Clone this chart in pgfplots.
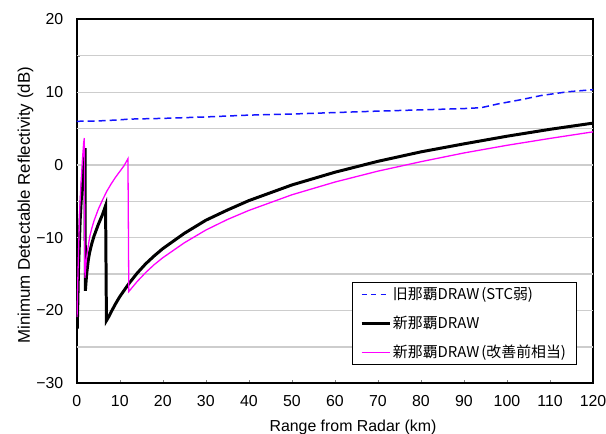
\documentclass[border=0pt]{standalone}
\usepackage{fontspec}
\setmainfont{Liberation Sans}
\newfontfamily\cjk{Noto Sans CJK JP}
\usepackage{pgfplots}
\pgfplotsset{compat=1.18}
\definecolor{myblue}{RGB}{20,20,255}
\definecolor{mymag}{RGB}{255,0,255}
\definecolor{gridc}{RGB}{205,205,205}
\begin{document}
\begin{tikzpicture}
\path[use as bounding box] (-77bp,-50.5bp) rectangle (531bp,384.5bp);
\begin{axis}[
  scale only axis, width=518bp, height=365bp,
  xmin=0, xmax=120, ymin=-30, ymax=20,
  xtick={0,10,...,120},
  ytick={-30,-20,-10,0,10,20},
  yticklabels={−30,−20,−10,0,10,20},
  minor ytick={-25,-15,-5,5,15},
  ymajorgrids=true, yminorgrids=true,
  major grid style={gridc, line width=1.3bp},
  minor grid style={gridc, line width=1.3bp},
  axis line style={line width=2bp},
  major tick length=3bp, minor tick length=3bp,
  tick pos=left, tick align=inside,
  /pgf/number format/assume math mode=true,
  ticklabel style={font=\fontsize{16}{18}\selectfont},
  xticklabel style={yshift=-9bp},
  yticklabel style={xshift=-10bp},
  xlabel={Range from Radar (km)},
  ylabel={Minimum Detectable Reflectivity (dB)},
  every axis x label/.style={at={(axis description cs:0.535,-0.122)}, anchor=center, font=\fontsize{16}{18}\selectfont},
  every axis y label/.style={at={(axis description cs:-0.0994,0.489)}, anchor=center, rotate=90, font=\fontsize{17}{19}\selectfont},
  legend image code/.code={\draw[#1] (0bp,0bp) -- (28bp,0bp);},
  legend cell align=left,
  legend style={at={(0.533,0.277)}, anchor=north west, draw=black,
    font=\cjk\fontsize{15}{17}\selectfont, row sep=11bp, inner xsep=8bp, inner ysep=3bp},
]
\addplot[gridc, line width=1.3bp, forget plot] coordinates {(0,-25)(120,-25)};
\addplot[gridc, line width=1.3bp, forget plot] coordinates {(0,-20)(120,-20)};
\addplot[gridc, line width=1.3bp, forget plot] coordinates {(0,-15)(120,-15)};
\addplot[gridc, line width=1.3bp, forget plot] coordinates {(0,-10)(120,-10)};
\addplot[gridc, line width=1.3bp, forget plot] coordinates {(0,-5)(120,-5)};
\addplot[gridc, line width=1.3bp, forget plot] coordinates {(0,0)(120,0)};
\addplot[gridc, line width=1.3bp, forget plot] coordinates {(0,5)(120,5)};
\addplot[gridc, line width=1.3bp, forget plot] coordinates {(0,10)(120,10)};
\addplot[gridc, line width=1.3bp, forget plot] coordinates {(0,15)(120,15)};
\addplot[myblue, line width=1.5bp, dash pattern=on 7bp off 4bp,
  legend image post style={dash pattern=on 5bp off 4.5bp}] coordinates {
(0,6.0)(5,6.05)(10,6.2)(12,6.3)(20,6.4)(30,6.6)(40,6.85)(50,7.0)(60,7.2)(70,7.4)(80,7.57)(90,7.75)(94,7.87)(98,8.4)(103,8.94)(108,9.55)(114,10.05)(120,10.35)
};
\addlegendentry{旧那覇DRAW\hspace{2bp}(STC弱)}
\addplot[black, line width=3bp] coordinates {
(0.12,-22.5)(0.4,-14.5)(0.8,-7.5)(1.2,-3.2)(1.6,0.0)(1.93,2.3)(2.0,-17.3)(2.3,-15.0)(2.7,-13.0)(3.0,-12.0)(3.5,-10.8)(4.0,-9.8)(4.5,-9.0)(5.0,-8.2)(5.5,-7.5)(6.0,-6.8)(6.7,-5.6)(6.9,-21.4)(7.5,-20.8)(8,-20.2)(9,-19.1)(10,-18.1)(12,-16.4)(14,-14.9)(16,-13.6)(18,-12.5)(20,-11.5)(25,-9.4)(30,-7.6)(35,-6.2)(40,-4.9)(50,-2.75)(60,-1.0)(70,0.5)(80,1.8)(90,2.9)(100,3.95)(110,4.9)(120,5.75)
};
\addlegendentry{新那覇DRAW}
\addplot[mymag, line width=1.3bp] coordinates {
(0.07,-20.9)(0.3,-14.5)(0.69,-6.0)(1.0,-2.5)(1.3,0.5)(1.6,3.0)(1.76,3.7)(1.9,-15.5)(2.2,-13.2)(2.5,-11.8)(3.0,-9.9)(3.5,-8.7)(4,-7.7)(5,-6.1)(6,-4.8)(7,-3.6)(8,-2.6)(9,-1.7)(10,-0.9)(11,-0.1)(11.9,0.85)(12.1,-17.4)(14,-16.05)(16,-14.8)(18,-13.7)(20,-12.75)(25,-10.7)(30,-8.95)(35,-7.5)(40,-6.25)(50,-4.1)(60,-2.35)(70,-0.85)(80,0.45)(90,1.65)(100,2.7)(110,3.65)(120,4.55)
};
\addlegendentry{新那覇DRAW\hspace{2bp}(改善前相当)}
\end{axis}
\end{tikzpicture}
\end{document}
